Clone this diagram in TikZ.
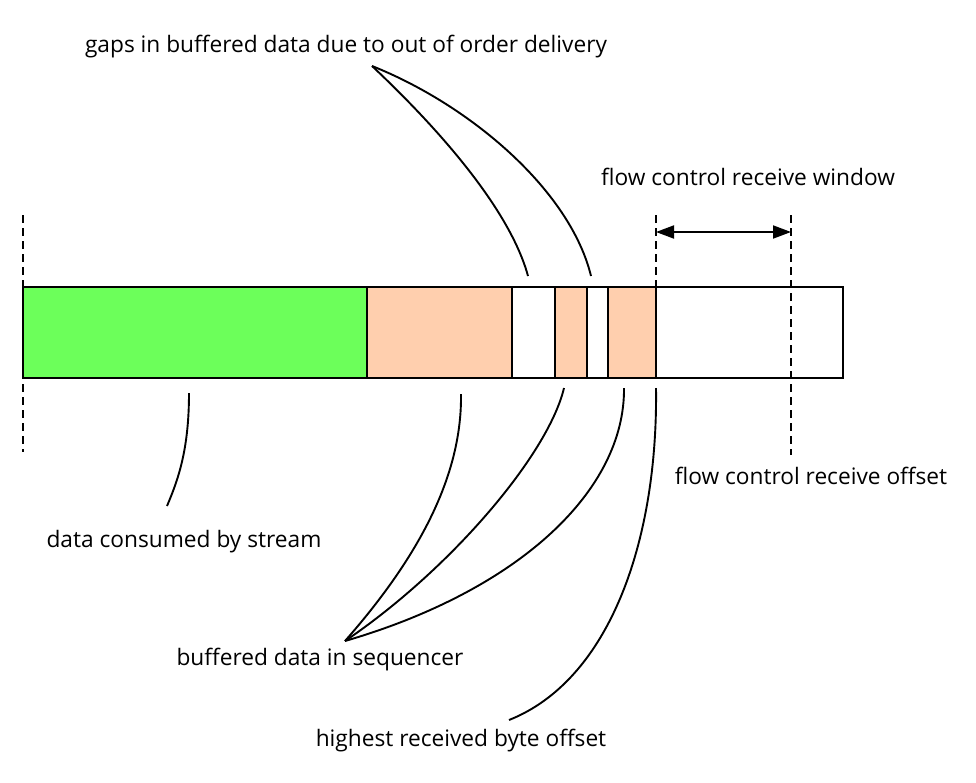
\documentclass[tikz,border=0pt]{standalone}
\usepackage{fontspec}
\setmainfont{Open Sans}
\usetikzlibrary{arrows.meta}
\definecolor{consumed}{HTML}{6CFF5A}
\definecolor{buffered}{HTML}{FFCFAE}
\begin{document}
\begin{tikzpicture}[x=1pt,y=-1pt,
    label/.style={inner sep=0pt, font=\fontsize{22.7}{26}\selectfont},
    lead/.style={black, line width=1.9pt},
    edge/.style={black, line width=1.9pt},
    marker/.style={black, line width=1.9pt, dash pattern=on 8pt off 5pt},
    span/.style={black, line width=1.9pt, {Triangle[length=18pt,width=13pt]}-{Triangle[length=18pt,width=13pt]}}]
        \useasboundingbox (0,0) rectangle (976,782);
        \fill [consumed] (23,287) rectangle (367,378);
        \fill [buffered] (367,287) rectangle (512,378);
        \fill [buffered] (555,287) rectangle (587,378);
        \fill [buffered] (608,287) rectangle (656,378);
        \draw [edge] (23,287) rectangle (843,378);
        \foreach \x in {367,512,555,587,608,656}
            \draw [edge] (\x,287) -- (\x,378);
        \coordinate (start top) at (23,215);
        \coordinate (start bot) at (23,452);
        \coordinate (recv top) at (656,215);
        \coordinate (recv bar) at (656,287);
        \coordinate (limit top) at (791,215);
        \coordinate (limit bot) at (791,455);
        \draw [marker] (start top) -- (start bot);
        \draw [marker] (recv top) -- (recv bar);
        \draw [marker] (limit top) -- (limit bot);
        \coordinate (win left) at (656,232);
        \coordinate (win right) at (791,232);
        \draw [span] (win left) -- (win right);
        \node [label] (gaps) at (346,47) {gaps in buffered data due to out of order delivery};
        \node [label] (window) at (748,177) {flow control receive window};
        \node [label] (offset) at (811,476) {flow control receive offset};
        \node [label] (consumed) at (184,542) {data consumed by stream};
        \node [label] (sequencer) at (320,660) {buffered data in sequencer};
        \node [label] (highest) at (461,741) {highest received byte offset};
        \coordinate (gap tip) at (372,66);
        \coordinate (gap a) at (528,276);
        \coordinate (gap b) at (591,276);
        \draw [lead] (gap tip) .. controls (440,130) and (510,210) .. (gap a);
        \draw [lead] (gap tip) .. controls (470,105) and (570,190) .. (gap b);
        \coordinate (green top) at (189,393);
        \coordinate (green end) at (167,506);
        \draw [lead] (green top) .. controls (189,450) and (178,480) .. (green end);
        \coordinate (seq tip) at (345,641);
        \coordinate (seq a) at (461,394);
        \coordinate (seq b) at (564,388);
        \coordinate (seq c) at (624,388);
        \draw [lead] (seq tip) .. controls (425,550) and (462,470) .. (seq a);
        \draw [lead] (seq tip) .. controls (450,570) and (548,455) .. (seq b);
        \draw [lead] (seq tip) .. controls (520,590) and (625,490) .. (seq c);
        \coordinate (high top) at (656,388);
        \coordinate (high end) at (509,720);
        \draw [lead] (high top) .. controls (658,540) and (610,680) .. (high end);
\end{tikzpicture}
\end{document}
